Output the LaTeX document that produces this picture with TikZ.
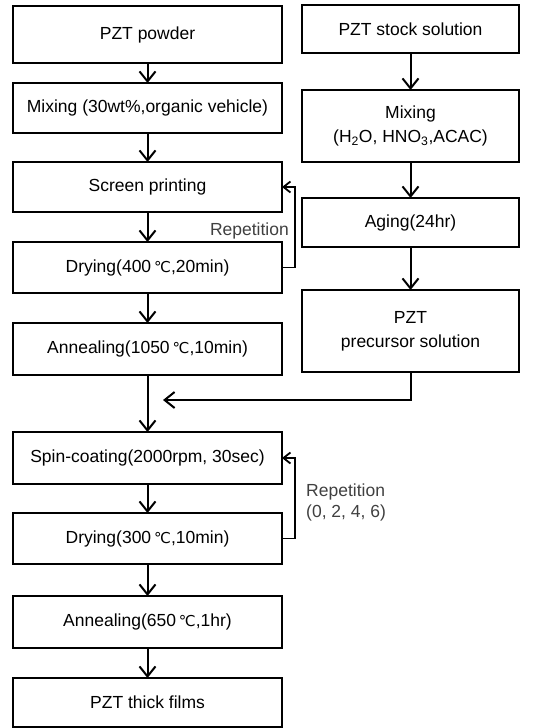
\documentclass[tikz,border=0pt]{standalone}
\usepackage{fontspec}
\setmainfont{Liberation Sans}
\newfontfamily\dejavu{DejaVu Sans}
\usetikzlibrary{arrows.meta}
\newcommand\degC{{\dejavu\fontsize{15}{18}\selectfont ℃}}
\begin{document}
\begin{tikzpicture}[x=1pt,y=-1pt,
  box/.style={draw, line width=1.7pt, inner sep=0pt, outer sep=0pt, align=center,
    font=\fontsize{17.5}{24}\selectfont},
  lbox/.style={box, minimum width=269pt},
  rbox/.style={box, minimum width=217pt},
  flow/.style={line width=2pt, -{Straight Barb[length=10pt,width=16pt,line width=2pt]}},
  loop/.style={line width=1.8pt, -{Straight Barb[length=7pt,width=11pt,line width=1.8pt]}},
  rep/.style={font=\fontsize{17.5}{21}\selectfont, text=black!75, inner sep=0pt}]
\useasboundingbox (0,0) rectangle (540,728);
% left column
\node[lbox, minimum height=57pt] (powder) at (147.5,34.5) {PZT powder};
\node[lbox, minimum height=50pt] (mix1) at (147.5,108) {Mixing (30wt\%,organic vehicle)};
\node[lbox, minimum height=50pt] (screen) at (147.5,187) {Screen printing};
\node[lbox, minimum height=51pt] (dry1) at (147.5,267.5) {Drying(400\,\degC,20min)};
\node[lbox, minimum height=52pt] (ann1) at (147.5,349) {Annealing(1050\,\degC,10min)};
\node[lbox, minimum height=52pt] (spin) at (147.5,458) {Spin-coating(2000rpm, 30sec)};
\node[lbox, minimum height=51pt] (dry2) at (147.5,538.5) {Drying(300\,\degC,10min)};
\node[lbox, minimum height=52pt] (ann2) at (147.5,622) {Annealing(650\,\degC,1hr)};
\node[lbox, minimum height=49pt] (films) at (147.5,702.5) {PZT thick films};
% right column
\node[rbox, minimum height=48pt] (stock) at (410.5,29) {PZT stock solution};
\node[rbox, minimum height=72pt] (mix2) at (410.5,126) {Mixing\\(H\textsubscript{2}O, HNO\textsubscript{3},ACAC)};
\node[rbox, minimum height=49pt] (aging) at (410.5,222.5) {Aging(24hr)};
\node[rbox, minimum height=82pt] (prec) at (410.5,331) {PZT\\precursor solution};
% arrows left
\draw[flow] (powder) -- (mix1);
\draw[flow] (mix1) -- (screen);
\draw[flow] (screen) -- (dry1);
\draw[flow] (dry1) -- (ann1);
\draw[flow] (ann1) -- (spin);
\draw[flow] (spin) -- (dry2);
\draw[flow] (dry2) -- (ann2);
\draw[flow] (ann2) -- (films);
% arrows right
\draw[flow] (stock) -- (mix2);
\draw[flow] (mix2) -- (aging);
\draw[flow] (aging) -- (prec);
% merge
\coordinate (mergetip) at (163,400);
\draw[flow] (prec.south) |- (mergetip);
% loops
\draw[loop] (dry1.east) -- (295,267.5) |- (screen.east);
\draw[loop] (dry2.east) -- (295,538.5) |- (spin.east);
\node[rep, anchor=east] (rep1) at (289,231) {Repetition};
\node[rep, anchor=north west, align=left] (rep2) at (306,484) {Repetition\\(0, 2, 4, 6)};
\end{tikzpicture}
\end{document}
